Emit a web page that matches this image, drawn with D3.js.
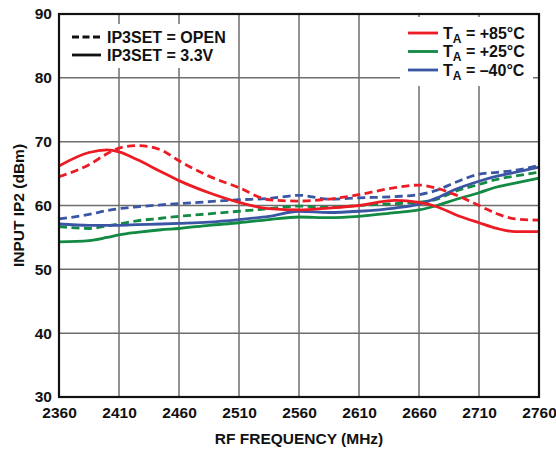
<!DOCTYPE html>
<html>
<head>
<meta charset="utf-8">
<script src="https://cdn.jsdelivr.net/npm/d3@7"></script>
<style>
  html, body { margin: 0; padding: 0; background: #fff; }
  svg text { font-family: Arial, "Liberation Sans", Helvetica, sans-serif; font-weight: bold; fill: #111; }
</style>
</head>
<body>
<svg id="chart" width="556" height="450"></svg>
<script>
const freq = [2360, 2385, 2400, 2410, 2425, 2445, 2460, 2485, 2510, 2535, 2560, 2585, 2610, 2640, 2660, 2675, 2690, 2710, 2725, 2740, 2760];

const t85_33   = [66.2, 68.3, 68.7, 68.4, 67.2, 65.3, 63.9, 62.0, 60.5, 59.5, 59.3, 59.6, 60.0, 60.8, 60.5, 59.8, 58.6, 57.3, 56.4, 55.9, 55.9];
const t85_open = [64.5, 66.4, 68.1, 69.0, 69.4, 68.7, 67.0, 64.6, 62.8, 60.9, 60.7, 61.0, 61.7, 62.8, 63.2, 62.7, 61.7, 60.0, 58.7, 57.9, 57.7];
const t25_33   = [54.3, 54.5, 55.0, 55.4, 55.8, 56.2, 56.4, 56.9, 57.3, 57.8, 58.2, 58.1, 58.3, 58.9, 59.3, 60.0, 60.9, 62.0, 62.9, 63.5, 64.3];
const t25_open = [56.7, 56.4, 56.8, 57.1, 57.6, 58.0, 58.3, 58.7, 59.1, 59.5, 59.9, 59.7, 60.0, 60.3, 60.5, 61.0, 62.2, 63.3, 64.1, 64.6, 65.2];
const tm40_33  = [57.1, 56.9, 56.9, 56.9, 57.0, 57.1, 57.2, 57.4, 57.8, 58.3, 59.1, 58.9, 59.1, 59.6, 60.2, 61.2, 62.5, 63.8, 64.6, 65.2, 66.0];
const tm40_open= [57.9, 58.6, 59.2, 59.5, 59.8, 60.1, 60.3, 60.6, 60.9, 61.1, 61.6, 61.0, 61.2, 61.4, 61.7, 62.4, 63.6, 64.9, 65.2, 65.5, 66.3];

const xTicks = [2360, 2410, 2460, 2510, 2560, 2610, 2660, 2710, 2760];
const yTicks = [30, 40, 50, 60, 70, 80, 90];

const tempLabels = ["+85°C", "+25°C", "\u201340°C"];
const modeLabels = ["IP3SET = OPEN", "IP3SET = 3.3V"];
const xTitle = "RF FREQUENCY (MHz)";
const yTitle = "INPUT IP2 (dBm)";

const RED = "#ed1c24", GREEN = "#138a43", BLUE = "#3b55a5";

const series = [
  { v: tm40_open, c: BLUE, dash: true },
  { v: t25_open, c: GREEN, dash: true },
  { v: tm40_33, c: BLUE, dash: false },
  { v: t25_33, c: GREEN, dash: false },
  { v: t85_open, c: RED, dash: true },
  { v: t85_33, c: RED, dash: false }
];

const svg = d3.select("#chart");
const L = 59, T = 14, W = 480, H = 383;
const x = d3.scaleLinear().domain([2360, 2760]).range([L, L + W]);
const y = d3.scaleLinear().domain([30, 90]).range([T + H, T]);

// grid
const grid = svg.append("g");
grid.selectAll("line.v").data(xTicks.slice(1, -1)).enter().append("line")
  .attr("x1", d => x(d)).attr("x2", d => x(d)).attr("y1", T).attr("y2", T + H)
  .attr("stroke", "#6e6e6e").attr("stroke-width", 1.5);
grid.selectAll("line.h").data(yTicks.slice(1, -1)).enter().append("line")
  .attr("x1", L).attr("x2", L + W).attr("y1", d => y(d)).attr("y2", d => y(d))
  .attr("stroke", "#6e6e6e").attr("stroke-width", 1.5);

// legend backgrounds (cover grid)
svg.append("rect").attr("x", 66).attr("y", 24).attr("width", 166).attr("height", 44).attr("fill", "#fff");
svg.append("rect").attr("x", 400).attr("y", 17).attr("width", 133).attr("height", 69).attr("fill", "#fff");

// lines
const line = d3.line().x((d, i) => x(freq[i])).y(d => y(d)).curve(d3.curveMonotoneX);
svg.append("g").selectAll("path").data(series).enter().append("path")
  .attr("d", d => line(d.v))
  .attr("fill", "none")
  .attr("stroke", d => d.c)
  .attr("stroke-width", 2.8)
  .attr("stroke-dasharray", d => d.dash ? "8,4.5" : null);

// frame
svg.append("rect").attr("x", L).attr("y", T).attr("width", W).attr("height", H)
  .attr("fill", "none").attr("stroke", "#111").attr("stroke-width", 2.2);

// axes (labels only)
const xAxis = d3.axisBottom(x).tickValues(xTicks).tickSize(0).tickPadding(10).tickFormat(d3.format("d"));
const gx = svg.append("g").attr("transform", `translate(0,${T + H})`).call(xAxis);
gx.select(".domain").remove();
gx.selectAll("text").attr("font-size", 15.5).attr("font-family", "Arial, 'Liberation Sans', sans-serif").attr("font-weight", "bold").attr("fill", "#111");

const yAxis = d3.axisLeft(y).tickValues(yTicks).tickSize(0).tickPadding(7).tickFormat(d3.format("d"));
const gy = svg.append("g").attr("transform", `translate(${L},0)`).call(yAxis);
gy.select(".domain").remove();
gy.selectAll("text").attr("font-size", 15.5).attr("font-family", "Arial, 'Liberation Sans', sans-serif").attr("font-weight", "bold").attr("fill", "#111");

// axis titles
svg.append("text").attr("x", x(2560)).attr("y", 444).attr("text-anchor", "middle")
  .attr("font-size", 15.5).text(xTitle);
svg.append("text").attr("transform", `translate(24,${y(60)}) rotate(-90)`).attr("text-anchor", "middle")
  .attr("font-size", 15.5).text(yTitle);

// left legend
const ml = svg.append("g");
modeLabels.forEach((lab, i) => {
  const yy = 37 + i * 18;
  ml.append("line").attr("x1", 72).attr("x2", 101).attr("y1", yy).attr("y2", yy)
    .attr("stroke", "#111").attr("stroke-width", 2.8)
    .attr("stroke-dasharray", i === 0 ? "7,3.5" : null);
  ml.append("text").attr("x", 107).attr("y", yy + 5.5).attr("font-size", 16).text(lab);
});

// right legend
const tl = svg.append("g");
const tcols = [RED, GREEN, BLUE];
tempLabels.forEach((lab, i) => {
  const yy = 33 + i * 18.5;
  tl.append("line").attr("x1", 408).attr("x2", 438).attr("y1", yy).attr("y2", yy)
    .attr("stroke", tcols[i]).attr("stroke-width", 2.8);
  const t = tl.append("text").attr("x", 443).attr("y", yy + 5.5).attr("font-size", 16);
  t.append("tspan").text("T");
  t.append("tspan").attr("font-size", 12).attr("dy", 4).text("A");
  t.append("tspan").attr("dy", -4).text(" = " + lab);
});
</script>
</body>
</html>
